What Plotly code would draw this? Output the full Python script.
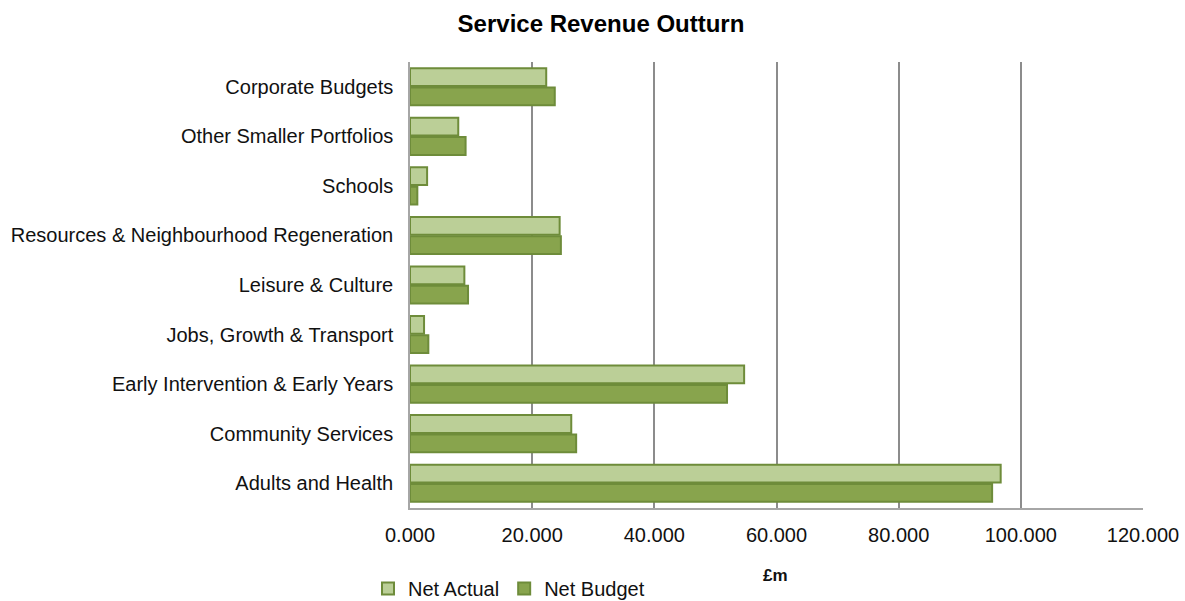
import plotly.graph_objects as go

# Services, listed bottom-to-top as they appear on the axis
services = [
    "Adults and Health",
    "Community Services",
    "Early Intervention & Early Years",
    "Jobs, Growth & Transport",
    "Leisure & Culture",
    "Resources & Neighbourhood Regeneration",
    "Schools",
    "Other Smaller Portfolios",
    "Corporate Budgets",
]

# £m
net_actual = [96.7, 26.4, 54.7, 2.3, 8.9, 24.5, 2.8, 7.9, 22.3]
net_budget = [95.3, 27.2, 51.9, 3.0, 9.5, 24.7, 1.2, 9.1, 23.7]

x_ticks = [0, 20, 40, 60, 80, 100, 120]
x_tick_labels = ["0.000", "20.000", "40.000", "60.000", "80.000", "100.000", "120.000"]

LIGHT = "#BBCF97"
DARK = "#88A44D"
EDGE = "#6E8C3A"
FONT = "Liberation Sans, Arial, sans-serif"
W, H = 1185, 601
PLOT_L, PLOT_R, PLOT_T, PLOT_B = 410, 1143, 62, 508

fig = go.Figure()
# Budget is added first so that it sits below Actual within each group
fig.add_trace(go.Bar(
    y=services, x=net_budget, orientation="h", name="Net Budget",
    marker=dict(color=DARK, line=dict(color=EDGE, width=2)),
    legendrank=2,
))
fig.add_trace(go.Bar(
    y=services, x=net_actual, orientation="h", name="Net Actual",
    marker=dict(color=LIGHT, line=dict(color=EDGE, width=2)),
    legendrank=1,
))

fig.update_layout(
    width=W, height=H,
    margin=dict(l=PLOT_L, r=W - PLOT_R, t=PLOT_T, b=H - PLOT_B, autoexpand=False),
    paper_bgcolor="white", plot_bgcolor="white",
    barmode="group", bargap=0.22, bargroupgap=0.08,
    font=dict(family=FONT, size=20, color="#111111"),
    title=dict(text="<b>Service Revenue Outturn</b>", xref="container", x=601 / W,
               xanchor="center", yref="container", y=1 - 24 / H, yanchor="middle",
               font=dict(family=FONT, size=24, color="black")),
    xaxis=dict(
        range=[0, 120], tickvals=x_ticks, ticktext=x_tick_labels,
        showgrid=True, gridcolor="#8c8c8c", gridwidth=1.5,
        showline=True, linecolor="#a6a6a6", linewidth=1.5,
        ticks="", zeroline=False, tickfont=dict(size=20),
        ticklabelstandoff=8, automargin=False,
    ),
    yaxis=dict(
        showline=True, linecolor="#a6a6a6", linewidth=1.5,
        showgrid=False, ticks="", ticklabelstandoff=11,
        tickfont=dict(size=20), automargin=False,
    ),
    showlegend=True,
    legend=dict(orientation="h", xref="container", x=368 / W, xanchor="left",
                yref="container", y=1 - 569 / H, yanchor="top",
                font=dict(size=20), itemwidth=30, traceorder="normal",
                itemclick=False, tracegroupgap=0),
    annotations=[dict(text="<b>£m</b>", xref="paper",
                      x=(775 - PLOT_L) / (PLOT_R - PLOT_L),
                      yref="paper", y=(PLOT_B - 575) / (PLOT_B - PLOT_T),
                      xanchor="center", yanchor="middle",
                      showarrow=False, font=dict(size=17, color="#111111"))],
)

fig.write_html("out.html")
